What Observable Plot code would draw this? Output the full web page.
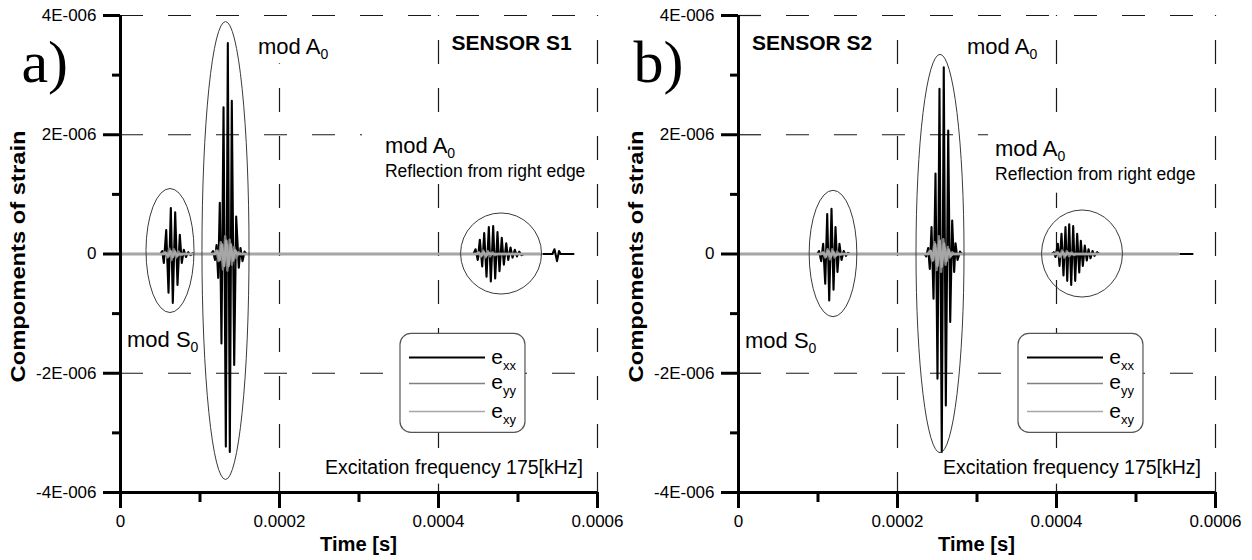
<!DOCTYPE html>
<html><head><meta charset="utf-8">
<script src="https://cdn.jsdelivr.net/npm/d3@7"></script>
<script src="https://cdn.jsdelivr.net/npm/@observablehq/plot@0.6"></script>
<style>
html,body{margin:0;padding:0;background:#fff;}
#wrap{display:flex;width:1252px;height:560px;overflow:hidden;}
</style></head>
<body><div id="wrap"></div>
<script>
// ---------- axis ticks & labels ----------
const xTicks = [0, 0.0002, 0.0004, 0.0006];
const xMinorTicks = [0.0001, 0.0003, 0.0005];
const yTicks = [-4e-6, -2e-6, 0, 2e-6, 4e-6];
const yMinorTicks = [-3e-6, -1e-6, 1e-6, 3e-6];
const xGrid = [0.0002, 0.0004, 0.0006];
const yGrid = [-2e-6, 2e-6, 4e-6];
const xTitle = "Time [s]";
const yTitle = "Compoments of strain";
const seriesSubs = ["xx", "yy", "xy"];   // e_xx, e_yy, e_xy

// ---------- data: [time in µs, strain in 1e-6] ----------
// Sensor S1
const s1Exx = [[0,0],[50,0],
 [52.5,0.05],[54.5,-0.15],[57.5,0.4],[60.4,-0.65],[63.3,0.77],[65.8,-0.82],[68.8,0.70],[71.7,-0.52],[74.6,0.32],[77.1,-0.15],[79.6,0.07],[82.4,-0.05],[85.2,0.03],[88.1,-0.02],[90.6,0.01],
 [93,0],[114,0],
 [116.4,0.05],[118.9,-0.1],[120.8,0.15],[122.9,-0.4],[124.9,0.86],[127.0,-1.5],[129.6,2.46],[132.5,-3.23],[135.0,3.54],[137.5,-3.32],[140.0,2.57],[143.0,-1.86],[145.5,0.63],[148.8,-0.23],[150.9,0.1],[153.5,-0.12],[156.0,0.04],
 [158.5,0],[444,0],
 [446.6,0.08],[449.4,-0.1],[452.0,0.24],[455.0,-0.21],[457.5,0.35],[460.4,-0.38],[463.3,0.45],[465.8,-0.46],[468.8,0.47],[471.3,-0.41],[474.2,0.37],[476.7,-0.29],[479.6,0.27],[482.2,-0.18],[485.2,0.18],[487.7,-0.1],[490.6,0.11],[493.1,-0.06],[496.0,0.07],[498.7,-0.04],[501.5,0.04],[504.4,-0.02],
 [507,0],[543.4,0],[545.9,0.08],[549.1,-0.12],[551.6,0.05],[553.5,0],[569.8,0]];
const s1Eyy = [[0,0],[53,0],[55.5,0.03],[58.5,-0.06],[61.3,0.09],[64.2,-0.1],[67,0.08],[70,-0.06],[73,0.04],[76,-0.02],[79,0],
 [118,0],[120.5,0.06],[123.3,-0.12],[126.1,0.2],[128.9,-0.26],[131.7,0.3],[134.5,-0.28],[137.3,0.24],[140.1,-0.18],[142.9,0.12],[145.7,-0.07],[148.5,0.03],[151,0],
 [447,0],[450,0.03],[453,-0.05],[456,0.06],[459,-0.06],[462,0.05],[465,-0.04],[468,0.03],[471,-0.02],[474,0],[529.6,0]];
const s1Exy = [[0,0],[54,0],[57,0.02],[60,-0.04],[62.8,0.05],[65.7,-0.05],[68.5,0.04],[71.4,-0.03],[74,0],
 [119,0],[121.9,0.05],[124.7,-0.1],[127.5,0.16],[130.3,-0.2],[133.1,0.22],[135.9,-0.2],[138.7,0.16],[141.5,-0.11],[144.3,0.06],[147,0],
 [448,0],[451,0.02],[454,-0.03],[457,0.03],[460,-0.03],[463,0.02],[466,0],[529.6,0]];
// Sensor S2
const s2Exx = [[0,0],[99,0],
 [101.3,0.05],[104.0,-0.12],[106.5,0.17],[109.1,-0.5],[111.6,0.67],[114.1,-0.78],[117.0,0.76],[119.5,-0.6],[122.0,0.45],[124.5,-0.3],[127.0,0.17],[129.6,-0.1],[132.3,0.05],[135.1,-0.03],[137.7,0.02],
 [140,0],[234,0],
 [236.1,-0.04],[238.6,0.1],[240.6,-0.25],[242.8,0.45],[245.3,-0.75],[247.8,1.35],[250.3,-2.09],[252.8,2.77],[255.7,-3.32],[258.2,3.13],[260.8,-2.54],[263.8,2.07],[266.3,-1.14],[268.8,0.56],[271.3,-0.3],[273.0,0.18],[275.5,-0.1],[278.6,0.04],
 [281,0],[394,0],
 [396.6,0.03],[398.7,-0.05],[401.7,0.17],[403.8,-0.2],[406.3,0.34],[408.8,-0.36],[411.3,0.45],[413.5,-0.45],[416.0,0.5],[418.5,-0.52],[421.0,0.47],[423.5,-0.45],[426.0,0.34],[428.6,-0.31],[430.6,0.22],[433.1,-0.2],[435.6,0.14],[438.1,-0.11],[440.3,0.08],[442.8,-0.07],[445.3,0.05],[447.8,-0.03],[451.2,0.03],
 [454,0],[571.1,0]];
const s2Eyy = [[0,0],[103,0],[106,0.03],[109,-0.06],[112,0.08],[115,-0.09],[118,0.08],[121,-0.06],[124,0.04],[127,-0.02],[130,0],
 [238,0],[240.8,0.06],[243.6,-0.12],[246.4,0.2],[249.2,-0.27],[252,0.3],[254.8,-0.3],[257.6,0.25],[260.4,-0.18],[263.2,0.12],[266,-0.06],[268.8,0.03],[271.5,0],
 [398,0],[401,0.03],[404,-0.05],[407,0.06],[410,-0.06],[413,0.05],[416,-0.04],[419,0.03],[422,-0.02],[425,0],[553.5,0]];
const s2Exy = [[0,0],[104,0],[107,0.02],[110,-0.04],[113,0.05],[116,-0.05],[119,0.04],[122,-0.03],[125,0],
 [239,0],[241.8,0.05],[244.6,-0.1],[247.4,0.16],[250.2,-0.2],[253,0.22],[255.8,-0.21],[258.6,0.17],[261.4,-0.12],[264.2,0.07],[267,-0.03],[269.5,0],
 [399,0],[402,0.02],[405,-0.03],[408,0.03],[411,-0.03],[414,0.02],[417,0],[553.5,0]];

// ---------- styles ----------
const FONT = "'Liberation Sans', Arial, Helvetica, sans-serif";
const SERIF = "'Liberation Serif', 'Times New Roman', serif";
const lineColors = ["#000000", "#808080", "#a6a6a6"];
const lineWidths = [2.1, 2.4, 2.6];
const legendWidths = [2, 1.5, 1.5];
const TEXT_STYLES = {
  mode:   {size: 22, subSize: 14, subShift: 5},
  small:  {size: 17.5},
  sensor: {size: 21, weight: "bold"},
  note:   {size: 19.5},
  letter: {size: 60, family: SERIF},
  legend: {size: 21, subSize: 13, subShift: 6}
};

// ---------- annotation layout (µs, 1e-6 units) ----------
const panels = [
  {
    series: [s1Exx, s1Eyy, s1Exy],
    margins: {left: 120, right: 29},
    ellipses: [[62.9, 0.05, 30.2, 1.04], [132.7, 0.05, 29.6, 3.84], [479.3, 0, 50.9, 0.68]],
    boxes: [[169.8, 270.4, 3.66, 3.19], [304.4, 591.2, 2.25, 1.22], [249, 588.7, -3.32, -3.86]],
    texts: [
      {t: 173.6, v: 3.34, parts: ["mod A", ["0"]], style: "mode"},
      {t: 333.3, v: 1.68, parts: ["mod A", ["0"]], style: "mode"},
      {t: 333.3, v: 1.28, parts: ["Reflection from right edge"], style: "small"},
      {t: 417.1, v: 3.42, parts: ["SENSOR S1"], style: "sensor"},
      {t: 8.8, v: -1.56, parts: ["mod S", ["0"]], style: "mode"},
      {t: 582.4, v: -3.69, parts: ["Excitation frequency 175[kHz]"], style: "note", anchor: "end"},
      {t: -124, v: 2.87, parts: ["a)"], style: "letter"}
    ]
  },
  {
    series: [s2Exx, s2Eyy, s2Exy],
    margins: {left: 112, right: 37},
    ellipses: [[119.5, 0, 30.0, 1.06], [254.1, 0, 30.2, 3.34], [432.7, 0, 50.9, 0.73]],
    boxes: [[314.5, 593.7, 2.25, 1.02], [249, 588.7, -3.32, -3.86]],
    texts: [
      {t: 288.1, v: 3.34, parts: ["mod A", ["0"]], style: "mode"},
      {t: 323.3, v: 1.64, parts: ["mod A", ["0"]], style: "mode"},
      {t: 323.3, v: 1.24, parts: ["Reflection from right edge"], style: "small"},
      {t: 17.6, v: 3.42, parts: ["SENSOR S2"], style: "sensor"},
      {t: 8.8, v: -1.59, parts: ["mod S", ["0"]], style: "mode"},
      {t: 582.4, v: -3.69, parts: ["Excitation frequency 175[kHz]"], style: "note", anchor: "end"},
      {t: -131.5, v: 2.87, parts: ["b)"], style: "letter"}
    ]
  }
];
const legendLayout = {box: [352.2, 509.4, -1.34, -3.0], line: [363.5, 459.1], rows: [-1.745, -2.18, -2.65], labelX: 467};

// ---------- helpers ----------
const us = v => v * 1e-6;
const fmtY = d => d === 0 ? "0" : (d < 0 ? "-" : "") + Math.round(Math.abs(d) * 1e6) + "E-006";
const fmtX = d => d === 0 ? "0" : d.toFixed(4);

function drawText(g, x, y, parts, o) {
  const t = g.append("text")
    .attr("x", x).attr("y", y)
    .attr("font-family", o.family || FONT)
    .attr("font-size", o.size)
    .attr("font-weight", o.weight || "normal")
    .attr("text-anchor", o.anchor || "start")
    .attr("fill", "#000");
  if (o.rotate) t.attr("transform", `rotate(${o.rotate},${x},${y})`);
  if (o.length) t.attr("textLength", o.length).attr("lengthAdjust", "spacingAndGlyphs");
  for (const p of parts) {
    if (Array.isArray(p)) t.append("tspan").attr("font-size", o.subSize).attr("dy", o.subShift).text(p[0]);
    else t.append("tspan").text(p);
  }
  return t;
}

function ellipseMark(list) {
  return (index, {x, y}) => {
    const g = d3.create("svg:g").attr("fill", "none").attr("stroke", "#3a3a3a").attr("stroke-width", 1);
    for (const [cx, cy, rx, ry] of list) {
      g.append("ellipse")
        .attr("cx", x(us(cx))).attr("cy", y(us(cy)))
        .attr("rx", x(us(cx + rx)) - x(us(cx)))
        .attr("ry", y(us(cy)) - y(us(cy + ry)));
    }
    return g.node();
  };
}

function textMark(list) {
  return (index, {x, y}) => {
    const g = d3.create("svg:g");
    for (const a of list) {
      drawText(g, x(us(a.t)), y(us(a.v)), a.parts, {...TEXT_STYLES[a.style], anchor: a.anchor});
    }
    return g.node();
  };
}

function legendMark(L) {
  return (index, {x, y}) => {
    const g = d3.create("svg:g");
    const x0 = x(us(L.box[0])), x1 = x(us(L.box[1])), y0 = y(us(L.box[2])), y1 = y(us(L.box[3]));
    g.append("rect").attr("x", x0).attr("y", y0).attr("width", x1 - x0).attr("height", y1 - y0)
      .attr("rx", 11).attr("fill", "#fff").attr("stroke", "#555").attr("stroke-width", 1.2);
    L.rows.forEach((v, i) => {
      const yy = y(us(v));
      g.append("line").attr("x1", x(us(L.line[0]))).attr("x2", x(us(L.line[1])))
        .attr("y1", yy).attr("y2", yy).attr("stroke", lineColors[i]).attr("stroke-width", legendWidths[i]);
      drawText(g, x(us(L.labelX)), yy + 6, ["e", [seriesSubs[i]]], TEXT_STYLES.legend);
    });
    return g.node();
  };
}

function titleMark() {
  return (index, scales, values, dim) => {
    const g = d3.create("svg:g");
    const cx = (dim.marginLeft + dim.width - dim.marginRight) / 2;
    const cy = (dim.marginTop + dim.height - dim.marginBottom) / 2;
    drawText(g, cx, dim.height - 9, [xTitle], {size: 20, weight: "bold", anchor: "middle", length: 77});
    drawText(g, dim.marginLeft - 95, cy + 3, [yTitle], {size: 21, weight: "bold", anchor: "middle", rotate: -90, length: 252});
    return g.node();
  };
}

function makePanel(P) {
  const rows = P.series.map(s => s.map(([t, v]) => ({t: us(t), v: us(v)})));
  return Plot.plot({
    width: 626, height: 560,
    marginTop: 15, marginBottom: 68, marginLeft: P.margins.left, marginRight: P.margins.right,
    x: {domain: [0, 0.0006]},
    y: {domain: [-4e-6, 4e-6]},
    style: {fontFamily: FONT, background: "#fff", overflow: "visible", color: "#000"},
    marks: [
      Plot.ruleY(yGrid, {stroke: "#1a1a1a", strokeWidth: 1.2, strokeDasharray: "23,25"}),
      Plot.ruleX(xGrid, {stroke: "#1a1a1a", strokeWidth: 1.2, strokeDasharray: "24,24", strokeDashoffset: 23}),
      Plot.rect(P.boxes, {x1: d => us(d[0]), x2: d => us(d[1]), y1: d => us(d[2]), y2: d => us(d[3]), fill: "#fff"}),
      ...rows.map((r, i) => Plot.line(r, {x: "t", y: "v", stroke: lineColors[i], strokeWidth: lineWidths[i]})),
      ellipseMark(P.ellipses),
      legendMark(legendLayout),
      textMark(P.texts),
      Plot.axisY(yMinorTicks, {anchor: "left", tickSize: 8, strokeWidth: 3, tickFormat: () => "", label: null}),
      Plot.axisY(yTicks, {anchor: "left", tickSize: 17, tickPadding: 7, strokeWidth: 3, tickFormat: fmtY, fontSize: 17, label: null}),
      Plot.axisX(xMinorTicks, {anchor: "bottom", tickSize: 10, strokeWidth: 3, tickFormat: () => "", label: null}),
      Plot.axisX(xTicks, {anchor: "bottom", tickSize: 16, tickPadding: 6, strokeWidth: 3, tickFormat: fmtX, fontSize: 17, label: null}),
      Plot.ruleX([0], {strokeWidth: 3, stroke: "#000"}),
      Plot.ruleY([-4e-6], {strokeWidth: 3, stroke: "#000"}),
      titleMark()
    ]
  });
}

const wrap = document.getElementById("wrap");
for (const P of panels) wrap.appendChild(makePanel(P));
</script>
</body></html>
